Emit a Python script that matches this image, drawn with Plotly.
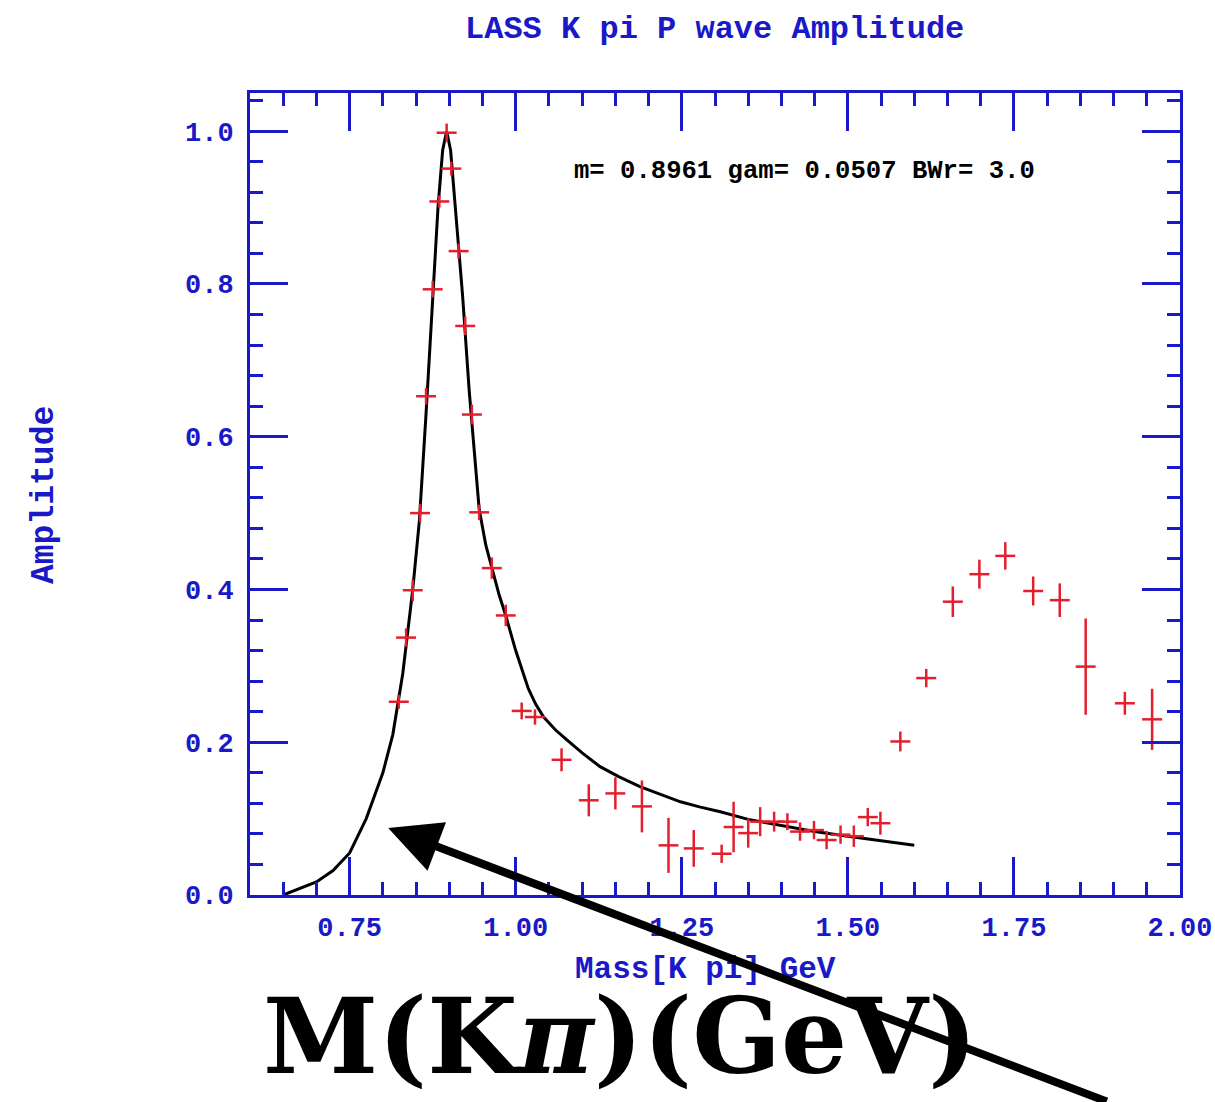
import plotly.graph_objects as go

# ---- data ----
mass = [0.824, 0.835, 0.845, 0.856, 0.865, 0.875, 0.885, 0.896, 0.903, 0.914,
        0.924, 0.934, 0.945, 0.964, 0.985, 1.009, 1.029, 1.069, 1.110, 1.150,
        1.190, 1.230, 1.268, 1.310, 1.328, 1.350, 1.368, 1.389, 1.409, 1.428,
        1.449, 1.468, 1.489, 1.509, 1.530, 1.549, 1.579, 1.618, 1.658, 1.698,
        1.737, 1.779, 1.819, 1.858, 1.917, 1.958]
amp = [0.253, 0.337, 0.399, 0.500, 0.653, 0.793, 0.908, 0.998, 0.951, 0.843,
       0.745, 0.629, 0.501, 0.428, 0.366, 0.241, 0.233, 0.177, 0.124, 0.133,
       0.116, 0.065, 0.061, 0.054, 0.089, 0.081, 0.096, 0.096, 0.096, 0.083,
       0.085, 0.072, 0.079, 0.077, 0.102, 0.094, 0.201, 0.284, 0.384, 0.420,
       0.444, 0.398, 0.386, 0.299, 0.251, 0.230]
amp_err = [0.009, 0.012, 0.014, 0.012, 0.011, 0.011, 0.008, 0.012, 0.009, 0.010,
           0.012, 0.013, 0.010, 0.014, 0.014, 0.011, 0.010, 0.015, 0.021, 0.021,
           0.034, 0.036, 0.024, 0.012, 0.033, 0.019, 0.019, 0.013, 0.011, 0.012,
           0.012, 0.012, 0.012, 0.014, 0.012, 0.015, 0.013, 0.012, 0.020, 0.019,
           0.018, 0.019, 0.022, 0.063, 0.015, 0.040]
mass_halfwidth = 0.015

fit_mass = [0.650, 0.675, 0.700, 0.725, 0.750, 0.775, 0.800, 0.815, 0.830, 0.845,
            0.855, 0.865, 0.875, 0.883, 0.890, 0.896, 0.902, 0.910, 0.920, 0.930,
            0.937, 0.945, 0.955, 0.965, 0.975, 0.985, 1.000, 1.019, 1.030, 1.042,
            1.060, 1.077, 1.100, 1.127, 1.155, 1.187, 1.220, 1.248, 1.278, 1.308,
            1.350, 1.400, 1.450, 1.500, 1.550, 1.600]
fit_amp = [0.000, 0.008, 0.017, 0.032, 0.055, 0.100, 0.160, 0.210, 0.290, 0.400,
           0.490, 0.630, 0.790, 0.900, 0.975, 1.000, 0.975, 0.895, 0.785, 0.660,
           0.585, 0.505, 0.458, 0.425, 0.393, 0.366, 0.320, 0.270, 0.250, 0.233,
           0.216, 0.203, 0.186, 0.168, 0.155, 0.142, 0.131, 0.122, 0.115, 0.109,
           0.099, 0.091, 0.083, 0.077, 0.071, 0.065]

x_ticks = [0.75, 1.00, 1.25, 1.50, 1.75, 2.00]
x_ticklabels = ["0.75", "1.00", "1.25", "1.50", "1.75", "2.00"]
y_ticks = [0.0, 0.2, 0.4, 0.6, 0.8, 1.0]
y_ticklabels = ["0.0", "0.2", "0.4", "0.6", "0.8", "1.0"]

BLUE = "rgb(25,25,200)"
RED = "rgb(228,30,45)"
FONT = "Liberation Mono"

fig = go.Figure()

fig.add_trace(go.Scatter(
    x=fit_mass, y=fit_amp, mode="lines",
    line=dict(color="black", width=3),
    showlegend=False, hoverinfo="skip"))

fig.add_trace(go.Scatter(
    x=mass, y=amp, mode="markers",
    marker=dict(size=1, color=RED),
    error_y=dict(type="data", array=amp_err, color=RED, thickness=2.5, width=0),
    error_x=dict(type="constant", value=mass_halfwidth, color=RED, thickness=2.5, width=0),
    showlegend=False))

axis_common = dict(
    showgrid=False, zeroline=False, automargin=False,
    showline=True, linecolor=BLUE, linewidth=3, mirror="allticks",
    ticks="inside", ticklen=38, tickwidth=2.5, tickcolor=BLUE,
    tickfont=dict(family=FONT, size=27, color=BLUE, weight="bold"),
)

fig.update_xaxes(
    range=[0.6, 2.0], tickvals=x_ticks, ticktext=x_ticklabels,
    ticklabelstandoff=6,
    minor=dict(dtick=0.05, ticks="inside", ticklen=13, tickwidth=2.5, tickcolor=BLUE),
    **axis_common)
fig.update_yaxes(
    range=[0.0, 1.05], tickvals=y_ticks, ticktext=y_ticklabels,
    ticklabelstandoff=8,
    minor=dict(dtick=0.04, ticks="inside", ticklen=13, tickwidth=2.5, tickcolor=BLUE),
    **axis_common)

annotations = [
    dict(text="<b>LASS K pi P wave Amplitude</b>", x=0.499, y=1.0786,
         xref="paper", yref="paper", xanchor="center", yanchor="middle", showarrow=False,
         font=dict(family=FONT, size=32, color=BLUE)),
    dict(text="<b>Mass[K pi] GeV</b>", x=0.49, y=-0.0935,
         xref="paper", yref="paper", xanchor="center", yanchor="middle", showarrow=False,
         font=dict(family=FONT, size=31, color=BLUE)),
    dict(text="<b>Amplitude</b>", x=-0.2204, y=0.4988, textangle=-90,
         xref="paper", yref="paper", xanchor="center", yanchor="middle", showarrow=False,
         font=dict(family=FONT, size=33, color=BLUE)),
    dict(text="<b>m= 0.8961 gam= 0.0507 BWr= 3.0</b>", x=0.3462, y=0.9027,
         xref="paper", yref="paper", xanchor="left", yanchor="middle", showarrow=False,
         font=dict(family=FONT, size=25.6, color="black")),
    dict(text="<b>M(K<i>π</i>)(GeV)</b>", x=0.398, y=-0.176,
         xref="paper", yref="paper", xanchor="center", yanchor="middle", showarrow=False,
         font=dict(family="DejaVu Serif", size=104, color="black")),
    dict(text="", x=0.808, y=0.0877, xref="x", yref="y",
         showarrow=True, ax=720, ay=280, axref="pixel", ayref="pixel",
         arrowhead=2, arrowsize=1.3, arrowwidth=8, arrowcolor="black"),
]

fig.update_layout(
    width=1215, height=1102,
    margin=dict(l=250, r=35, t=93, b=207, autoexpand=False),
    paper_bgcolor="white", plot_bgcolor="white",
    annotations=annotations,
)

fig.write_html("out.html", config={"displayModeBar": False},
               post_script="document.body.style.margin='0';")
